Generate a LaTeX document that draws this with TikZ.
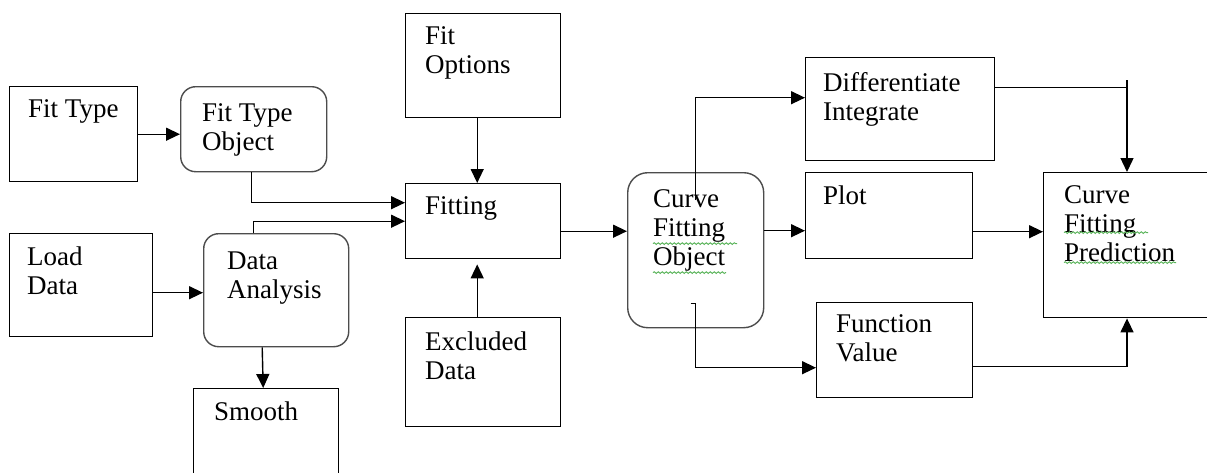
\documentclass[tikz,border=0pt]{standalone}
\usepackage{fontspec}
\setmainfont{Liberation Serif}
\usetikzlibrary{positioning,arrows.meta,calc,decorations.pathmorphing}
\tikzset{
  >={Triangle[length=14pt,width=13pt]},
  blk/.style={draw=black,line width=1.4pt,anchor=north west,inner sep=0pt},
  rblk/.style={blk,draw=black!70,rounded corners=15pt},
  txt/.style={anchor=north west,inner sep=0pt,align=left,
    font=\fontsize{27}{29}\selectfont},
  flow/.style={->,line width=1.4pt},
  wire/.style={line width=1.4pt},
  squig/.style={draw={rgb,255:red,90;green,180;blue,90},line width=0.9pt,
    decorate,decoration={snake,amplitude=0.9pt,segment length=4pt}},
}

\begin{document}
\begin{tikzpicture}[x=1pt,y=-1pt]
  \clip (0,0) rectangle (1207,472);
  \fill[white] (0,0) rectangle (1207,472);
  % blocks
  \node[blk,minimum width=128pt,minimum height=95pt] (fittype) at (9,86) {};
  \node[rblk,minimum width=146pt,minimum height=85pt] (fto) at (180,86) {};
  \node[blk,minimum width=155pt,minimum height=104pt] (fitopts) at (405,13) {};
  \node[blk,minimum width=155pt,minimum height=75pt] (fitting) at (405,183) {};
  \node[blk,minimum width=143pt,minimum height=103pt] (loaddata) at (9,233) {};
  \node[rblk,minimum width=145pt,minimum height=113pt] (da) at (203,233) {};
  \node[blk,minimum width=145pt,minimum height=100pt] (smooth) at (193,388) {};
  \node[blk,minimum width=155pt,minimum height=109pt] (excluded) at (405,317) {};
  \node[rblk,rounded corners=20pt,minimum width=136pt,minimum height=155pt] (cfo) at (627,172) {};
  \node[blk,minimum width=189pt,minimum height=103pt] (di) at (805,57) {};
  \node[blk,minimum width=167pt,minimum height=86pt] (plot) at (805,172) {};
  \node[blk,minimum width=156pt,minimum height=95pt] (fv) at (816,302) {};
  \node[blk,minimum width=200pt,minimum height=145pt] (cfp) at (1043,172) {};
  % texts
  \node[txt] (fittypet) at ($(fittype.north west)+(19,13.6)$) {Fit Type};
  \node[txt] (ftot) at ($(fto.north west)+(22,17.6)$) {Fit Type\\Object};
  \node[txt] (fitoptst) at ($(fitopts.north west)+(20,13.6)$) {Fit\\Options};
  \node[txt] (fittingt) at ($(fitting.north west)+(20,13.6)$) {Fitting};
  \node[txt] (loaddatat) at ($(loaddata.north west)+(18,13.6)$) {Load\\Data};
  \node[txt] (dat) at ($(da.north west)+(24,18.6)$) {Data\\Analysis};
  \node[txt] (smootht) at ($(smooth.north west)+(21,13.6)$) {Smooth};
  \node[txt] (excludedt) at ($(excluded.north west)+(20,14.6)$) {Excluded\\Data};
  \node[txt] (cfot) at ($(cfo.north west)+(26,17.6)$) {Curve\\Fitting\\Object};
  \node[txt] (dit) at ($(di.north west)+(18,15.6)$) {Differentiate\\Integrate};
  \node[txt] (plott) at ($(plot.north west)+(18,13.6)$) {Plot};
  \node[txt] (fvt) at ($(fv.north west)+(20,12.6)$) {Function\\Value};
  \node[txt] (cfpt) at ($(cfp.north west)+(21,13.6)$) {Curve\\Fitting\\Prediction};
  % spelling marks
  \draw[squig] ($(cfot.north west)+(0,54)$) -- ++(84,0);
  \draw[squig] ($(cfot.north west)+(0,83)$) -- ++(73,0);
  \draw[squig] ($(cfpt.north west)+(0,47)$) -- ++(84,0);
  \draw[squig] ($(cfpt.north west)+(0,77)$) -- ++(112,0);
  % connectors
  \draw[flow] (fittype.east) -- (fittype.east -| fto.west);
  \draw[flow] ([xshift=-2pt]fto.south) |- ([yshift=18.5pt]fitting.west);
  \draw[flow] ([xshift=-23pt]da.north) |- (fitting.west);
  \draw[flow] ([yshift=-2.5pt]da.west -| loaddata.east) -- ([yshift=-2.5pt]da.west);
  \draw[flow] ([xshift=-14pt]da.south) -- ([xshift=-3pt]smooth.north);
  \draw[flow] ([xshift=-6pt]fitopts.south) -- ([xshift=-6pt]fitting.north);
  \draw[flow,shorten >=5pt] ([xshift=-6pt]excluded.north) -- ([xshift=-6pt]fitting.south);
  \draw[flow] ([yshift=-10pt]fitting.east) -- ([yshift=-10pt]fitting.east -| cfo.west);
  \draw[flow] ([yshift=-28pt]cfo.north) |- ([yshift=11.5pt]di.west);
  \draw[flow] ([yshift=19.5pt]cfo.east) -- ([yshift=19.5pt]cfo.east -| plot.west);
  \draw[flow] ([xshift=-5pt,yshift=25pt]cfo.south) -- ([yshift=25pt]cfo.south)
    |- ([yshift=-17.5pt]fv.west);
  \coordinate (dj) at (1127,80);
  \draw[wire] ([yshift=21.5pt]di.east) -- ([yshift=21.5pt]di.east -| dj);
  \draw[flow] (dj) -- (dj |- cfp.north);
  \draw[flow] ([yshift=-16pt]plot.east) -- ([yshift=-16pt]plot.east -| cfp.west);
  \draw[flow] ([yshift=-16.5pt]fv.east) -| (dj |- cfp.south);
\end{tikzpicture}
\end{document}
